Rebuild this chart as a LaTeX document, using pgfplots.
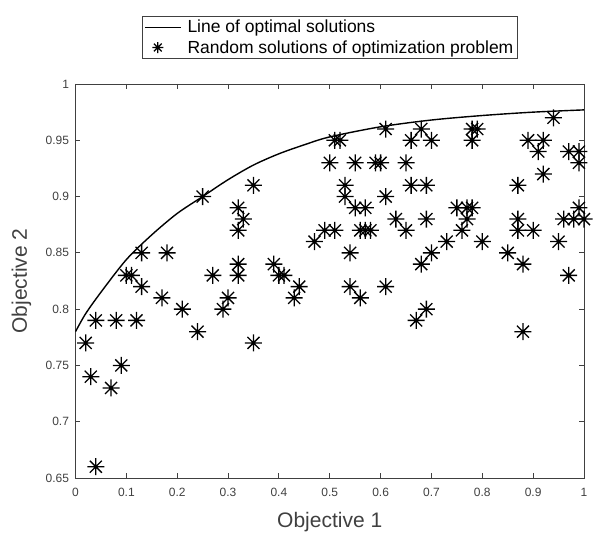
\documentclass[border=0pt]{standalone}
\usepackage{pgfplots}
\pgfplotsset{compat=1.18}
\usepackage{fontspec}
\setmainfont{Liberation Sans}
\pgfdeclareplotmark{ast8}{%
 \pgfpathmoveto{\pgfqpoint{-\pgfplotmarksize}{0pt}}\pgfpathlineto{\pgfqpoint{\pgfplotmarksize}{0pt}}%
 \pgfpathmoveto{\pgfqpoint{0pt}{-\pgfplotmarksize}}\pgfpathlineto{\pgfqpoint{0pt}{\pgfplotmarksize}}%
 \pgfpathmoveto{\pgfqpoint{-.7071\pgfplotmarksize}{-.7071\pgfplotmarksize}}\pgfpathlineto{\pgfqpoint{.7071\pgfplotmarksize}{.7071\pgfplotmarksize}}%
 \pgfpathmoveto{\pgfqpoint{-.7071\pgfplotmarksize}{.7071\pgfplotmarksize}}\pgfpathlineto{\pgfqpoint{.7071\pgfplotmarksize}{-.7071\pgfplotmarksize}}%
 \pgfusepathqstroke}
\definecolor{axgray}{gray}{0.25}
\pgfplotsset{
  lineleg/.style={legend image code/.code={\draw[##1] (0pt,0pt) -- (36pt,0pt);}},
  markleg/.style={legend image code/.code={\draw[##1, mark size=5.5pt] plot coordinates {(13pt,0pt)};}},
}
\begin{document}
\begin{tikzpicture}
\begin{axis}[
  scale only axis,
  width=508.5pt, height=394pt,
  xmin=0, xmax=1, ymin=0.65, ymax=1,
  xtick={0,0.1,...,1},
  ytick={0.65,0.7,0.75,0.8,0.85,0.9,0.95,1},
  xticklabels={0,0.1,0.2,0.3,0.4,0.5,0.6,0.7,0.8,0.9,1},
  yticklabels={0.65,0.7,0.75,0.8,0.85,0.9,0.95,1},
  tick align=inside,
  major tick length=5pt,
  axis line style={axgray, line width=0.8pt},
  every tick/.style={axgray, line width=0.8pt},
  tick label style={font=\fontsize{12}{14}\selectfont, text=axgray},
  xticklabel style={yshift=-7pt},
  yticklabel style={xshift=-3pt},
  xlabel={Objective 1}, ylabel={Objective 2},
  every axis x label/.style={at={(axis description cs:0.5,0)}, anchor=center, yshift=-44pt,
    font=\fontsize{21}{25}\selectfont, text=axgray},
  every axis y label/.style={at={(axis description cs:0,0.5)}, rotate=90, anchor=center, yshift=54pt,
    font=\fontsize{21}{25}\selectfont, text=axgray},
  legend style={at={(0.5,1)}, anchor=south, yshift=25pt, draw=axgray, line width=0.8pt,
    font=\fontsize{17.5}{21}\selectfont, inner xsep=2pt, inner ysep=2pt,
    row sep=2pt, cells={anchor=west},
    /tikz/every odd column/.append style={column sep=4pt}},
  legend cell align=left,
]
\addplot[black, line width=1.4pt, smooth, lineleg] coordinates {
(0,0.780) (0.02,0.796) (0.05,0.815) (0.1,0.844) (0.15,0.866) (0.2,0.885)
(0.25,0.900) (0.3,0.915) (0.35,0.928) (0.4,0.938) (0.45,0.946) (0.5,0.953)
(0.6,0.962) (0.7,0.968) (0.8,0.972) (0.9,0.975) (1.0,0.977)};
\addlegendentry{Line of optimal solutions}
\addplot[only marks, mark=ast8, mark size=8.5pt, black, line width=1.3pt, markleg] coordinates {
(0.02,0.77) (0.03,0.74) (0.04,0.79) (0.04,0.66) (0.07,0.73) (0.08,0.79)
(0.09,0.75) (0.10,0.83) (0.11,0.83) (0.12,0.79) (0.13,0.85) (0.13,0.82)
(0.17,0.81) (0.18,0.85) (0.21,0.80) (0.24,0.78) (0.25,0.90) (0.27,0.83)
(0.29,0.80) (0.30,0.81) (0.32,0.89) (0.33,0.88) (0.32,0.87) (0.32,0.84)
(0.32,0.83) (0.35,0.91) (0.35,0.77) (0.39,0.84) (0.40,0.83) (0.41,0.83)
(0.43,0.81) (0.44,0.82) (0.47,0.86) (0.49,0.87) (0.51,0.87) (0.50,0.93)
(0.51,0.95) (0.52,0.95) (0.53,0.91) (0.53,0.90) (0.54,0.85) (0.54,0.82)
(0.55,0.93) (0.55,0.89) (0.56,0.87) (0.56,0.81) (0.57,0.89) (0.57,0.87)
(0.58,0.87) (0.59,0.93) (0.60,0.93) (0.61,0.96) (0.61,0.90) (0.61,0.82)
(0.63,0.88) (0.65,0.93) (0.65,0.87) (0.66,0.95) (0.66,0.91) (0.67,0.79)
(0.68,0.96) (0.68,0.84) (0.69,0.91) (0.69,0.88) (0.69,0.80) (0.70,0.95)
(0.70,0.85) (0.73,0.86) (0.75,0.89) (0.76,0.87) (0.77,0.89) (0.77,0.88)
(0.78,0.96) (0.79,0.96) (0.78,0.95) (0.78,0.89) (0.80,0.86) (0.85,0.85)
(0.87,0.91) (0.87,0.88) (0.87,0.87) (0.88,0.84) (0.88,0.78) (0.89,0.95)
(0.90,0.87) (0.91,0.94) (0.92,0.95) (0.92,0.92) (0.94,0.97) (0.95,0.86)
(0.96,0.88) (0.97,0.94) (0.97,0.83) (0.98,0.88) (0.99,0.94) (0.99,0.93)
(0.99,0.89) (1.00,0.88)};
\addlegendentry{Random solutions of optimization problem}
\end{axis}
\path (current axis.south west) ++(-75.5pt,-55pt) rectangle ++(595pt,533pt);
\end{tikzpicture}
\end{document}
